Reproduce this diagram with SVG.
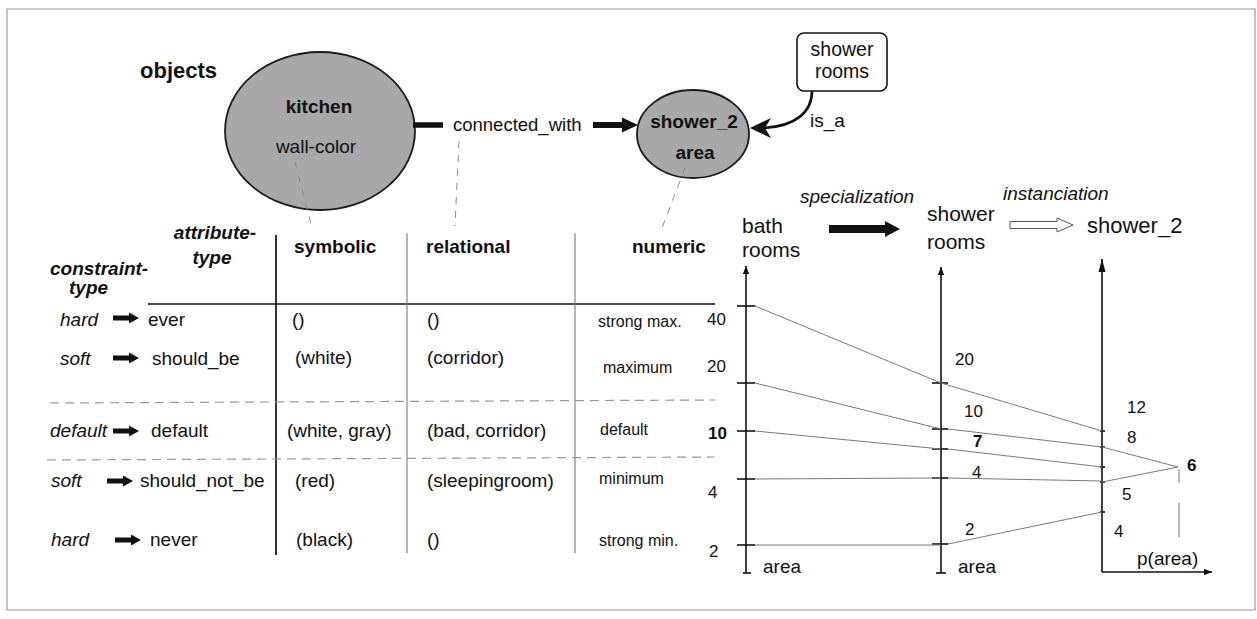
<svg xmlns="http://www.w3.org/2000/svg" width="1257" height="619" viewBox="0 0 1257 619">
<style>
text{font-family:"Liberation Sans",Arial,sans-serif;fill:#111}
.b{font-weight:bold}
.i{font-style:italic}
.bi{font-weight:bold;font-style:italic}
.t19{font-size:19px}
.t16{font-size:16px}
.t17{font-size:17px}
.t21{font-size:21px}
.frame{fill:none;stroke:#9a9a9a;stroke-width:1.2}
.dash{stroke:#8a8a8a;stroke-width:1;stroke-dasharray:7,7;fill:none}
.tdash{stroke:#9a9a9a;stroke-width:1.2;stroke-dasharray:9,6;fill:none}
.vgray{stroke:#777;stroke-width:1.1}
.axis{stroke:#111;stroke-width:1.6;fill:none}
.tick{stroke:#111;stroke-width:1.6}
.link{stroke:#7a7a7a;stroke-width:1;fill:none}
.node{fill:#a8a8a8;stroke:#1a1a1a;stroke-width:1.8}
</style>
<defs>
<marker id="ah" viewBox="0 0 10 10" refX="10" refY="5" markerWidth="5" markerHeight="8" markerUnits="strokeWidth" orient="auto">
<path d="M0,1 L10,5 L0,9 Z" fill="#111"/>
</marker>
<path id="carr" d="M0,-2.6 H16 V-5.5 L26,0 L16,5.5 V2.6 H0 Z" fill="#111"/>
</defs>

<g id="frame">
<path class="frame" d="M7,9 H1255 V610 H7 Z"/>
</g>

<text class="b" x="140" y="78" style="font-size:22px">objects</text>

<g id="kitchen">
<ellipse class="node" cx="320" cy="131" rx="95" ry="79"/>
<text class="b t19" x="319" y="113" text-anchor="middle">kitchen</text>
<text class="t19" x="316" y="153" text-anchor="middle">wall-color</text>
</g>

<g id="shower_2">
<ellipse class="node" cx="693" cy="134" rx="56" ry="44"/>
<text class="b t19" x="694" y="128" text-anchor="middle">shower_2</text>
<text class="b t19" x="695" y="159" text-anchor="middle">area</text>
</g>

<g id="shower_rooms">
<rect x="797" y="33" width="90" height="58" rx="7" fill="#fff" stroke="#111" stroke-width="1.6"/>
<text x="842" y="56" text-anchor="middle" style="font-size:19.5px">shower</text>
<text x="842" y="78" text-anchor="middle" style="font-size:19.5px">rooms</text>
</g>

<g id="connectors">
<line x1="413" y1="125" x2="443" y2="125" stroke="#111" stroke-width="5.5"/>
<text x="453" y="131" style="font-size:18.5px">connected_with</text>
<path d="M593,122 H622 V117.5 L638,125 L622,132.5 V128 H593 Z" fill="#111"/>
<path d="M812,91 C812,112 796,126 764,128" fill="none" stroke="#111" stroke-width="2.6"/>
<path d="M750,128 L771,118 L765,128 L771,138 Z" fill="#111"/>
<text class="t19" x="810" y="127">is_a</text>
<line class="dash" x1="295" y1="162" x2="312" y2="228"/>
<line class="dash" x1="459" y1="141" x2="455" y2="226"/>
<line class="dash" x1="685" y1="168" x2="660" y2="233"/>
</g>

<g id="table">
<text class="bi t19" x="215" y="239" text-anchor="middle">attribute-</text>
<text class="bi t19" x="212" y="264" text-anchor="middle">type</text>
<text class="bi t19" x="50" y="275">constraint-</text>
<text class="bi t19" x="69" y="294">type</text>
<text class="b t19" x="294" y="253">symbolic</text>
<text class="b t19" x="426" y="253">relational</text>
<text class="b t19" x="632" y="253">numeric</text>
<line x1="148" y1="304" x2="715" y2="304" stroke="#111" stroke-width="1.4"/>
<line x1="276" y1="235" x2="276" y2="555" stroke="#111" stroke-width="1.7"/>
<line class="vgray" x1="407" y1="233" x2="407" y2="553"/>
<line class="vgray" x1="575" y1="233" x2="575" y2="553"/>
<path class="tdash" d="M50,403 L715,400"/>
<path class="tdash" d="M47,460 L715,457"/>

<text class="i t19" x="60" y="326">hard</text>
<use href="#carr" x="113" y="318"/>
<text class="t19" x="148" y="326">ever</text>
<text class="t19" x="292" y="326">()</text>
<text class="t19" x="427" y="326">()</text>
<text class="t16" x="598" y="327">strong max.</text>

<text class="i t19" x="60" y="365">soft</text>
<use href="#carr" x="113" y="358"/>
<text class="t19" x="152" y="365">should_be</text>
<text class="t19" x="295" y="364">(white)</text>
<text class="t19" x="427" y="364">(corridor)</text>
<text class="t16" x="603" y="373">maximum</text>

<text class="i t19" x="50" y="437">default</text>
<use href="#carr" x="113" y="431"/>
<text class="t19" x="151" y="437">default</text>
<text class="t19" x="287" y="437">(white, gray)</text>
<text class="t19" x="427" y="437">(bad, corridor)</text>
<text class="t16" x="600" y="435">default</text>

<text class="i t19" x="51" y="487">soft</text>
<use href="#carr" x="107" y="481"/>
<text class="t19" x="140" y="487">should_not_be</text>
<text class="t19" x="295" y="487">(red)</text>
<text class="t19" x="427" y="487">(sleepingroom)</text>
<text class="t16" x="599" y="484">minimum</text>

<text class="i t19" x="51" y="546">hard</text>
<use href="#carr" x="115" y="540"/>
<text class="t19" x="150" y="546">never</text>
<text class="t19" x="296" y="546">(black)</text>
<text class="t19" x="427" y="546">()</text>
<text class="t16" x="599" y="546">strong min.</text>
</g>

<g id="chart">
<text class="i t19" x="800" y="203">specialization</text>
<path d="M829,225 H885 V221 L900,229 L885,237 V233 H829 Z" fill="#111"/>
<text class="i t19" x="1003" y="200">instanciation</text>
<path d="M1010,221.5 H1057 V218 L1073,225 L1057,232 V228.5 H1010 Z" fill="#fff" stroke="#555" stroke-width="1"/>
<text class="t21" x="742" y="233">bath</text>
<text class="t21" x="742" y="257">rooms</text>
<text class="t21" x="927" y="221">shower</text>
<text class="t21" x="927" y="249">rooms</text>
<text class="t21" x="1087" y="233" style="font-size:22px">shower_2</text>

<line class="axis" x1="746" y1="573" x2="746" y2="266" marker-end="url(#ah)"/>
<line class="axis" x1="941" y1="573" x2="941" y2="267" marker-end="url(#ah)"/>
<path class="axis" d="M1102,572 V259"/>
<path d="M1102,259 L1098.5,272 L1105.5,272 Z" fill="#111"/>
<line class="axis" x1="1102" y1="572" x2="1212" y2="572" marker-end="url(#ah)"/>

<g class="tick">
<line x1="737" y1="306" x2="755" y2="306"/>
<line x1="737" y1="383" x2="755" y2="383"/>
<line x1="737" y1="431" x2="755" y2="431"/>
<line x1="737" y1="479" x2="755" y2="479"/>
<line x1="737" y1="545" x2="755" y2="545"/>
<line x1="743" y1="573" x2="751" y2="573"/>
<line x1="932" y1="383" x2="948" y2="383"/>
<line x1="932" y1="429" x2="948" y2="429"/>
<line x1="932" y1="449" x2="948" y2="449"/>
<line x1="932" y1="478" x2="948" y2="478"/>
<line x1="932" y1="544" x2="948" y2="544"/>
<line x1="936" y1="573" x2="946" y2="573"/>
<line x1="1100" y1="431" x2="1105" y2="431"/>
<line x1="1100" y1="447" x2="1105" y2="447"/>
<line x1="1100" y1="467" x2="1105" y2="467"/>
<line x1="1100" y1="482" x2="1105" y2="482"/>
<line x1="1100" y1="512" x2="1105" y2="512"/>
</g>

<g class="link">
<line x1="755" y1="306" x2="941" y2="383"/>
<line x1="755" y1="383" x2="941" y2="429"/>
<line x1="755" y1="431" x2="941" y2="449"/>
<line x1="755" y1="479" x2="941" y2="478"/>
<line x1="755" y1="545" x2="941" y2="545"/>
<line x1="941" y1="383" x2="1102" y2="431"/>
<line x1="948" y1="429" x2="1102" y2="447"/>
<line x1="948" y1="449" x2="1102" y2="467"/>
<line x1="948" y1="478" x2="1102" y2="481"/>
<line x1="948" y1="544" x2="1102" y2="512"/>
<line x1="1102" y1="447" x2="1178" y2="467"/>
<line x1="1178" y1="467" x2="1102" y2="482"/>
<line x1="1179" y1="469" x2="1179" y2="483"/>
<line x1="1179" y1="503" x2="1179" y2="537"/>
</g>

<text class="t17" x="707" y="325">40</text>
<text class="t17" x="707" y="372">20</text>
<text class="b t17" x="708" y="439">10</text>
<text class="t17" x="708" y="498">4</text>
<text class="t17" x="709" y="557">2</text>
<text class="t19" x="763" y="573">area</text>

<text class="t17" x="955" y="365">20</text>
<text class="t17" x="964" y="417">10</text>
<text class="b t17" x="973" y="447">7</text>
<text class="t17" x="972" y="478">4</text>
<text class="t17" x="965" y="535">2</text>
<text class="t19" x="958" y="573">area</text>

<text class="t17" x="1127" y="413">12</text>
<text class="t17" x="1127" y="443">8</text>
<text class="b t17" x="1187" y="471">6</text>
<text class="t17" x="1122" y="500">5</text>
<text class="t17" x="1114" y="537">4</text>
<text class="t19" x="1137" y="565">p(area)</text>
</g>
</svg>
